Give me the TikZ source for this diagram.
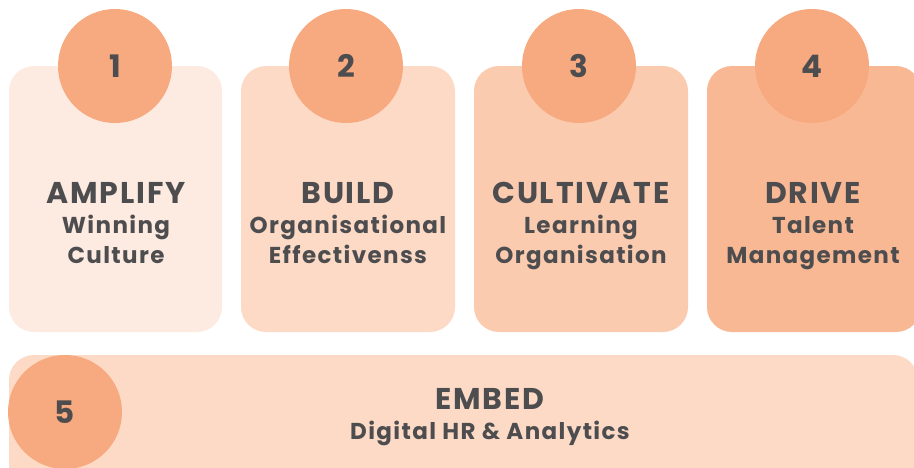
\documentclass[tikz,border=0pt]{standalone}
\usepackage{fontspec}
\setmainfont{Poppins}
\definecolor{txt}{HTML}{4D4D4F}
\definecolor{boxa}{HTML}{FDEAE0}
\definecolor{boxb}{HTML}{FCDAC6}
\definecolor{boxc}{HTML}{FBCBB0}
\definecolor{boxd}{HTML}{F9B894}
\definecolor{circ}{HTML}{F7A97F}
\begin{document}
\begin{tikzpicture}[x=1pt,y=-1pt,
  card/.style={rounded corners=25pt},
  num/.style={circle, fill=circ, minimum size=114pt, inner sep=0pt, text=txt, font=\fontsize{31}{31}\selectfont\bfseries},
  title/.style={anchor=base, text=txt, font=\fontsize{30}{30}\selectfont\bfseries\addfontfeatures{LetterSpace=6}, inner sep=0pt},
  sub/.style={anchor=base, text=txt, font=\fontsize{23}{30}\selectfont\bfseries\addfontfeatures{LetterSpace=6}, inner sep=0pt}]
\useasboundingbox (0,0) rectangle (914,467);
\clip (0,0) rectangle (914,467);
% cards
\fill[boxa,card] (9,66) rectangle (222,332);
\fill[boxb,card] (241,66) rectangle (455,332);
\fill[boxc,card] (474,66) rectangle (688,332);
\fill[boxd,card] (707,66) rectangle (921,332);
\fill[boxb,card] (9,355) rectangle (918,500);
% circles
\node[num] (n1) at (115,66) {1};
\node[num] (n2) at (346,66) {2};
\node[num] (n3) at (579,66) {3};
\node[num] (n4) at (812,66) {4};
\node[num] (n5) at (65,412) {5};
% texts
\node[title] (t1) at (116,203) {AMPLIFY};
\node[sub] (s1a) at (116,233) {Winning};
\node[sub] (s1b) at (116,263) {Culture};
\node[title] (t2) at (348,203) {BUILD};
\node[sub] (s2a) at (348,233) {Organisational};
\node[sub] (s2b) at (348,263) {Effectivenss};
\node[title] (t3) at (581,203) {CULTIVATE};
\node[sub] (s3a) at (581,233) {Learning};
\node[sub] (s3b) at (581,263) {Organisation};
\node[title] (t4) at (813,203) {DRIVE};
\node[sub] (s4a) at (813,233) {Talent};
\node[sub] (s4b) at (813,263) {Management};
\node[title] (t5) at (490,409) {EMBED};
\node[sub] (s5) at (490,439) {Digital HR \& Analytics};
\end{tikzpicture}
\end{document}
